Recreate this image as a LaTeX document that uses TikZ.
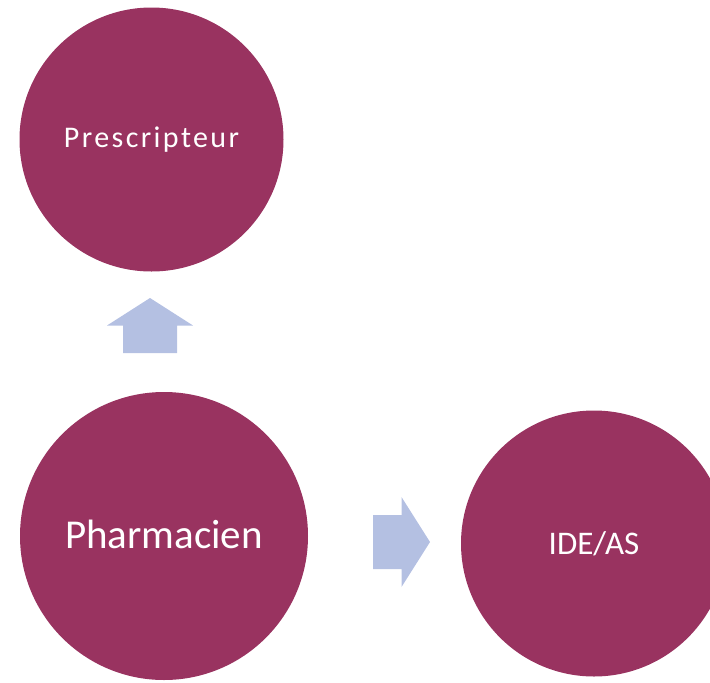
\documentclass[tikz,border=0pt]{standalone}
\usepackage{fontspec}
\setmainfont{Carlito}
\definecolor{plum}{RGB}{153,51,96}
\definecolor{flowblue}{RGB}{180,192,226}
\begin{document}
\begin{tikzpicture}[x=1pt,y=-1pt,
  role/.style={circle,fill=plum,text=white,inner sep=0pt},
  flow/.style={fill=flowblue,draw=none}]
\useasboundingbox (0,0) rectangle (710,683);
\begin{scope}
\clip (0,0) rectangle (710,683);
\node[role,minimum size=264pt] (presc) at (151.5,139.5)
  {\raisebox{-3pt}{\fontsize{30}{34}\selectfont\addfontfeature{LetterSpace=8}Prescripteur}};
\node[role,minimum size=288pt] (pharm) at (164,536)
  {\raisebox{3pt}{\fontsize{41}{46}\selectfont Pharmacien}};
\node[role,minimum size=266pt] (ide) at (594,543.5)
  {\fontsize{33}{38}\selectfont IDE/AS};
\end{scope}
% block arrow from Pharmacien up to Prescripteur
\coordinate (up) at (150,325.5);
\fill[flow] ([shift={(-27,27.5)}]up) -- ([shift={(-27,0)}]up)
  -- ([shift={(-43,0)}]up) -- ([shift={(0,-27.5)}]up) -- ([shift={(43,0)}]up)
  -- ([shift={(27,0)}]up) -- ([shift={(27,27.5)}]up) -- cycle;
% block arrow from Pharmacien to IDE/AS
\coordinate (rt) at (401.5,542);
\fill[flow] ([shift={(-28.5,-27)}]rt) -- ([shift={(0,-27)}]rt)
  -- ([shift={(0,-45)}]rt) -- ([shift={(28.5,0)}]rt) -- ([shift={(0,45)}]rt)
  -- ([shift={(0,27)}]rt) -- ([shift={(-28.5,27)}]rt) -- cycle;
\end{tikzpicture}
\end{document}
